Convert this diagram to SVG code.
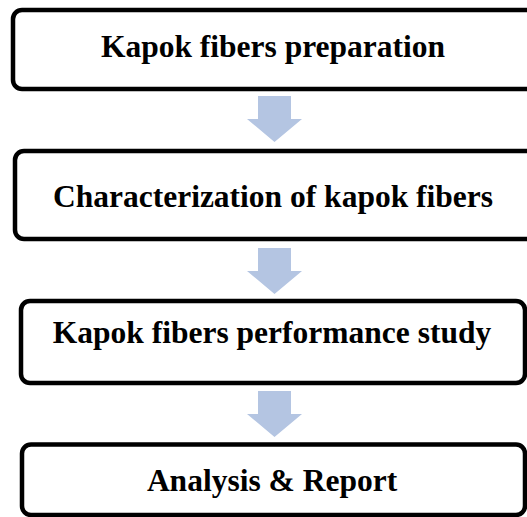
<svg xmlns="http://www.w3.org/2000/svg" width="527" height="517" viewBox="0 0 527 517">
<style>
.box{fill:#fff;stroke:#000;stroke-width:4.5}
.lbl{font-family:"Liberation Serif","Times New Roman",serif;font-weight:bold;font-size:31.5px;fill:#000;text-anchor:middle}
.arr{fill:#B4C5E2}
</style>
<defs>
<path id="arrow" d="M-16.5,0 H16.5 V23 H27.5 L0,46 L-27.5,23 H-16.5 Z"/>
</defs>
<rect x="0" y="0" width="527" height="517" fill="#fff"/>
<g id="connectors">
<use href="#arrow" class="arr" x="274.5" y="96"/>
<use href="#arrow" class="arr" x="274.5" y="248"/>
<use href="#arrow" class="arr" x="274.5" y="391"/>
</g>
<g id="node1">
<rect class="box" x="13" y="10" width="530" height="79" rx="9"/>
<text class="lbl" x="273" y="57">Kapok fibers preparation</text>
</g>
<g id="node2">
<rect class="box" x="15" y="151" width="530" height="88" rx="9"/>
<text class="lbl" x="273" y="207">Characterization of kapok fibers</text>
</g>
<g id="node3">
<rect class="box" x="21" y="301" width="504" height="82" rx="9"/>
<text class="lbl" x="272" y="343">Kapok fibers performance study</text>
</g>
<g id="node4">
<rect class="box" x="22" y="444.5" width="503" height="70.5" rx="9"/>
<text class="lbl" x="272" y="491">Analysis &amp; Report</text>
</g>
</svg>
